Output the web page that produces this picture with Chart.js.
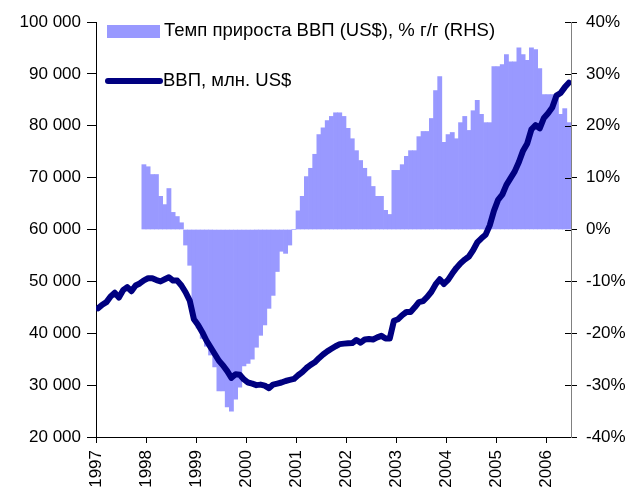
<!DOCTYPE html>
<html>
<head>
<meta charset="utf-8">
<script src="https://cdn.jsdelivr.net/npm/chart.js@4.4.1/dist/chart.umd.min.js"></script>
<style>
  html, body { margin: 0; padding: 0; background: #fff; }
  #wrap { width: 630px; height: 491px; position: relative; }
</style>
</head>
<body>
<div id="wrap"><canvas id="myChart"></canvas></div>
<script>
// monthly data, Jan 1997 .. Jun 2006
const startYear = 1997;
const yearLabels = ['1997', '1998', '1999', '2000', '2001', '2002', '2003', '2004', '2005', '2006'];

// ВВП, млн. US$
const gdp = [
    44800, 45500, 46000, 47100, 47800, 46900, 48300, 48900, 48100, 49200, 49600, 50200,
    50600, 50600, 50250, 50000, 50400, 50800, 50150, 50150, 49200, 47900, 46300, 42700,
    41600, 40200, 38600, 37300, 36000, 34700, 33800, 32700, 31400, 32100, 32000, 31100,
    30500, 30300, 30000, 30100, 29900, 29400, 30100, 30300, 30500, 30800, 31000, 31200,
    31900, 32500, 33300, 33900, 34400, 35200, 35900, 36500, 37000, 37500, 37900, 38000,
    38050, 38100, 38700, 38200, 38800, 38900, 38800, 39200, 39500, 39000, 39000, 42400,
    42700, 43500, 44100, 44100, 45000, 46000, 46200, 47000, 48000, 49400, 50400, 49500,
    50300, 51500, 52600, 53500, 54200, 54800, 56000, 57500, 58300, 59000, 60800, 63600,
    65700, 66700, 68600, 69900, 71200, 73000, 75200, 76600, 79300, 80100, 79500, 81500,
    82400, 83500, 85800, 86300, 87400, 88300
];

// Темп прироста ВВП (US$), % г/г
const growth = [
    null, null, null, null, null, null, null, null, null, null, null, 12.5,
    12.1, 10.6, 10.6, 6.4, 4.8, 7.9, 3.3, 2.5, 1.3, -3, -6.9, -17,
    -19, -21, -22.5, -24.2, -26.5, -31.1, -31.1, -34.2, -35, -32.7, -30.4, -26.3,
    -25.8, -25, -22.7, -20.4, -18.4, -15.2, -12.7, -8.1, -4.2, -4.6, -3, 0,
    3.6, 6.4, 10.2, 11.8, 14.5, 18.3, 19.6, 21, 21.8, 22.5, 22.5, 21.8,
    19.5, 17.5, 15.2, 13.3, 11.8, 10.2, 8.3, 6.4, 6.4, 3.7, 2.9, 11.4,
    11.4, 12.5, 14.1, 15.2, 15.2, 17.9, 18.9, 18.9, 21.4, 26.8, 29.5, 16.8,
    18.3, 18.7, 17.5, 20.6, 21.8, 19.1, 22.9, 24.9, 22.2, 20.6, 20.6, 31.4,
    31.4, 31.8, 33.7, 32.3, 32.3, 35, 33.7, 32.6, 35, 34.7, 31, 26,
    26, 26, 26, 22.2, 23.3, 20.6
];

const barColor = '#9999FF';
const lineColor = '#000080';
const fontFamily = '"Liberation Sans", Arial, sans-serif';

Chart.defaults.font.family = fontFamily;
Chart.defaults.font.size = 17;
Chart.defaults.color = '#000';

function spaced(v) {
    return String(v).replace(/\B(?=(\d{3})+(?!\d))/g, ' ');
}

// legend drawn inside the plot, top left, like the excel original
const insideLegend = {
    id: 'insideLegend',
    afterDraw(chart) {
        const ctx = chart.ctx;
        const ds = chart.data.datasets;
        ctx.save();
        ctx.font = '18.5px ' + fontFamily;
        ctx.textBaseline = 'middle';
        ctx.fillStyle = barColor;
        ctx.fillRect(107, 25, 53, 13);
        ctx.fillStyle = '#000';
        ctx.fillText(ds[1].label, 164, 31);
        ctx.strokeStyle = lineColor;
        ctx.lineWidth = 6;
        ctx.lineCap = 'round';
        ctx.beginPath();
        ctx.moveTo(108, 81);
        ctx.lineTo(160, 81);
        ctx.stroke();
        ctx.fillText(ds[0].label, 163, 81);

        // right axis ticks cross the axis line
        const s = chart.scales.y2;
        ctx.strokeStyle = '#000';
        ctx.lineWidth = 1;
        ctx.lineCap = 'butt';
        s.ticks.forEach(t => {
            const y = Math.round(s.getPixelForValue(t.value)) + 0.5;
            ctx.beginPath();
            ctx.moveTo(s.left - 6, y);
            ctx.lineTo(s.left, y);
            ctx.stroke();
        });
        ctx.restore();
    }
};

const config = {
    type: 'bar',
    data: {
        datasets: [
            {
                type: 'line',
                label: 'ВВП, млн. US$',
                data: gdp.map((v, i) => ({ x: i + 0.5, y: v })),
                yAxisID: 'y',
                borderColor: lineColor,
                borderWidth: 6,
                pointRadius: 0,
                tension: 0,
                borderJoinStyle: 'round',
                borderCapStyle: 'round',
                order: 0
            },
            {
                type: 'bar',
                label: 'Темп прироста ВВП (US$), % г/г (RHS)',
                data: growth.map((v, i) => ({ x: i + 0.5, y: v })),
                yAxisID: 'y2',
                backgroundColor: barColor,
                borderWidth: 0,
                barPercentage: 1,
                categoryPercentage: 1,
                order: 1
            }
        ]
    },
    options: {
        responsive: true,
        maintainAspectRatio: false,
        animation: false,
        layout: { padding: { top: 22, left: 0, right: 0, bottom: 0 } },
        plugins: {
            legend: { display: false },
            tooltip: { enabled: false }
        },
        scales: {
            x: {
                type: 'linear',
                offset: false,
                min: 0,
                max: gdp.length,
                afterFit: s => { s.height = 54; },
                afterBuildTicks: s => {
                    s.ticks = yearLabels.map((y, k) => ({ value: k * 12 }));
                },
                ticks: {
                    autoSkip: false,
                    maxRotation: 90,
                    minRotation: 90,
                    padding: 7,
                    callback: v => yearLabels[v / 12]
                },
                grid: { drawOnChartArea: false, drawTicks: true, tickLength: 6, color: '#000', offset: false },
                border: { display: true, color: '#000', width: 1 }
            },
            y: {
                position: 'left',
                min: 20000,
                max: 100000,
                afterFit: s => { s.width = 96; },
                ticks: { stepSize: 10000, padding: 6, callback: v => spaced(v) },
                grid: { drawOnChartArea: false, drawTicks: true, tickLength: 9, color: '#000' },
                border: { display: true, color: '#000', width: 1 }
            },
            y2: {
                position: 'right',
                min: -40,
                max: 40,
                afterFit: s => { s.width = 59; },
                ticks: { stepSize: 10, padding: 9, callback: v => v + '%' },
                grid: { drawOnChartArea: false, drawTicks: true, tickLength: 6, color: '#000' },
                border: { display: true, color: '#808080', width: 1 }
            }
        }
    },
    plugins: [insideLegend]
};

const myChart = new Chart(document.getElementById('myChart'), config);
</script>
</body>
</html>
